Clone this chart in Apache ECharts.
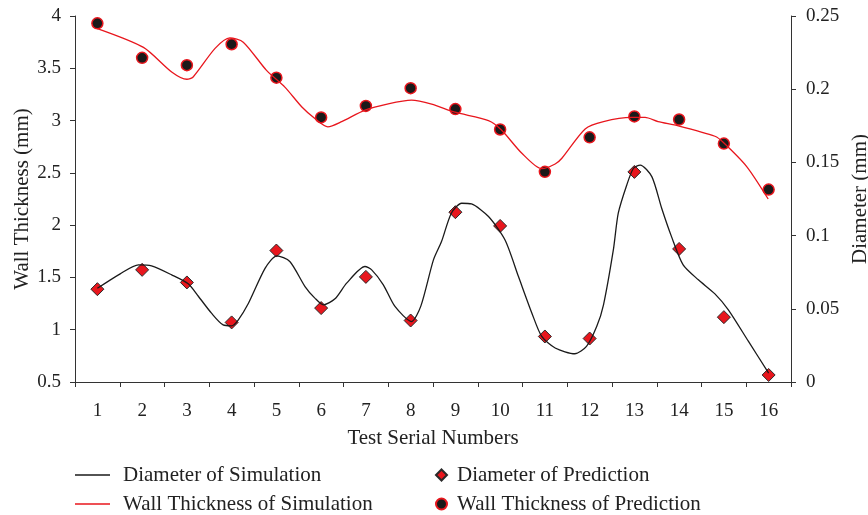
<!DOCTYPE html>
<html>
<head>
<meta charset="utf-8">
<script src="https://cdn.jsdelivr.net/npm/echarts@6/dist/echarts.min.js"></script>
<style>html,body{margin:0;padding:0;background:#fff}#c{width:868px;height:515px}</style>
</head>
<body>
<div id="c"></div>
<script>
var categories = ['1','2','3','4','5','6','7','8','9','10','11','12','13','14','15','16'];
var testNumbers = [1,2,3,4,5,6,7,8,9,10,11,12,13,14,15,16];
var diameterPrediction = [0.0634,0.0766,0.068,0.0407,0.0898,0.0505,0.0718,0.042,0.116,0.1066,0.0311,0.0297,0.1435,0.0909,0.0443,0.0048];
var wallPrediction = [3.93,3.60,3.53,3.73,3.41,3.03,3.14,3.31,3.11,2.915,2.51,2.84,3.04,3.01,2.78,2.34];

var wallSimX = [1.0,2.03,2.66,3.0,3.14,3.63,3.96,4.26,4.78,5.19,5.57,5.86,6.15,6.46,6.98,7.5,8.02,8.47,8.99,9.74,10.03,10.48,10.93,11.23,11.38,11.9,12.31,12.94,13.24,13.53,13.98,14.8,14.99,15.51,15.99];
var wallSimY = [3.88,3.70,3.465,3.395,3.417,3.69,3.79,3.75,3.48,3.32,3.13,3.02,2.94,2.99,3.10,3.16,3.195,3.157,3.08,3.0,2.91,2.69,2.54,2.585,2.64,2.92,2.99,3.03,3.03,2.99,2.95,2.85,2.79,2.56,2.25];

var diaSimX = [1.0,1.51,1.92,2.21,2.66,3.03,3.26,3.55,3.81,4.0,4.15,4.37,4.75,5.01,5.30,5.64,5.86,6.05,6.31,6.57,6.98,7.13,7.39,7.65,8.02,8.23,8.51,8.69,8.91,9.14,9.36,9.74,10.11,10.41,10.71,10.93,11.23,11.67,11.93,12.16,12.31,12.53,12.64,12.83,12.98,13.13,13.39,13.61,13.83,14.09,14.43,14.80,15.10,15.55,16.0];
var diaSimY = [0.064,0.0739,0.080,0.0793,0.0732,0.0671,0.0584,0.047,0.039,0.0384,0.0425,0.0534,0.0778,0.0862,0.0823,0.0652,0.0573,0.0527,0.0568,0.0675,0.0789,0.0766,0.0664,0.0516,0.0413,0.052,0.0834,0.0959,0.1153,0.1221,0.1216,0.113,0.097,0.072,0.047,0.0311,0.0232,0.0193,0.0243,0.038,0.0527,0.0902,0.1153,0.1346,0.146,0.1482,0.1403,0.1187,0.0993,0.08,0.0698,0.0602,0.0493,0.0277,0.0061];

function zip(a, b) { return a.map(function (v, i) { return [v, b[i]]; }); }

var FONT = "'Liberation Serif', 'Times New Roman', serif";
var AX = '#333';
var TXT = '#222';
var RED = '#e8161d';
var DIAMOND = 'path://M0,-1 L1,0 L0,1 L-1,0 Z';

var chart = echarts.init(document.getElementById('c'), null, {renderer: 'canvas'});
chart.setOption({
  animation: false,
  backgroundColor: '#fff',
  textStyle: {fontFamily: FONT},
  grid: {left: 75, right: 77, top: 16, bottom: 133, containLabel: false, outerBoundsMode: 'none'},
  xAxis: [{
    type: 'category', data: categories, boundaryGap: true,
    name: 'Test Serial Numbers', nameLocation: 'middle', nameGap: 46,
    nameTextStyle: {fontSize: 21, color: TXT, fontFamily: FONT},
    axisLine: {lineStyle: {color: AX, width: 1}},
    axisTick: {show: true, alignWithLabel: false, length: 5, lineStyle: {color: AX}},
    axisLabel: {fontSize: 19, color: TXT, margin: 20, fontFamily: FONT},
    splitLine: {show: false}
  }, {
    type: 'value', min: 0.5, max: 16.5, show: false, position: 'bottom'
  }],
  yAxis: [{
    type: 'value', min: 0.5, max: 4, interval: 0.5, position: 'left',
    name: 'Wall Thickness (mm)', nameLocation: 'middle', nameGap: 42, nameRotate: 90,
    nameMoveOverlap: false,
    nameTextStyle: {fontSize: 21, color: TXT, fontFamily: FONT},
    axisLine: {show: true, lineStyle: {color: AX, width: 1}},
    axisTick: {show: true, length: 5, lineStyle: {color: AX}},
    axisLabel: {fontSize: 19, color: TXT, margin: 14, fontFamily: FONT},
    splitLine: {show: false}
  }, {
    type: 'value', min: 0, max: 0.25, interval: 0.05, position: 'right',
    name: 'Diameter (mm)', nameLocation: 'middle', nameGap: 58, nameRotate: 90,
    nameTextStyle: {fontSize: 21, color: TXT, fontFamily: FONT},
    axisLine: {show: true, lineStyle: {color: AX, width: 1}},
    axisTick: {show: true, length: 5, lineStyle: {color: AX}},
    axisLabel: {fontSize: 19, color: TXT, margin: 15, fontFamily: FONT},
    splitLine: {show: false}
  }],
  legend: [{
    data: [
      {name: 'Diameter of Simulation', icon: 'rect'},
      {name: 'Wall Thickness of Simulation', icon: 'rect'}
    ],
    orient: 'vertical', left: 70, top: 459, height: 80, itemWidth: 35, itemHeight: 1.5, itemGap: 7,
    selectedMode: false,
    textStyle: {fontSize: 21, color: TXT, fontFamily: FONT, lineHeight: 22, padding: [0, 0, 0, 8]}
  }, {
    data: [
      {name: 'Diameter of Prediction', icon: DIAMOND},
      {name: 'Wall Thickness of Prediction', icon: 'circle'}
    ],
    orient: 'vertical', left: 430, top: 459, height: 80, itemWidth: 11, itemHeight: 11, itemGap: 7,
    selectedMode: false,
    textStyle: {fontSize: 21, color: TXT, fontFamily: FONT, lineHeight: 22, padding: [0, 0, 0, 5]}
  }],
  series: [{
    name: 'Diameter of Simulation', type: 'line', xAxisIndex: 1, yAxisIndex: 1,
    data: zip(diaSimX, diaSimY), symbol: 'none', smooth: 0.25,
    color: '#1a1a1a', lineStyle: {color: '#1a1a1a', width: 1.3}
  }, {
    name: 'Wall Thickness of Simulation', type: 'line', xAxisIndex: 1, yAxisIndex: 0,
    data: zip(wallSimX, wallSimY), symbol: 'none', smooth: 0.25,
    color: RED, lineStyle: {color: RED, width: 1.3}
  }, {
    name: 'Diameter of Prediction', type: 'scatter', xAxisIndex: 1, yAxisIndex: 1,
    data: zip(testNumbers, diameterPrediction), symbol: DIAMOND, symbolSize: 13,
    itemStyle: {color: RED, borderColor: '#2a2a2a', borderWidth: 1, opacity: 1}
  }, {
    name: 'Wall Thickness of Prediction', type: 'scatter', xAxisIndex: 1, yAxisIndex: 0,
    data: zip(testNumbers, wallPrediction), symbol: 'circle', symbolSize: 11,
    itemStyle: {color: '#1a1a1a', borderColor: RED, borderWidth: 1.5, opacity: 1}
  }]
});
</script>
</body>
</html>
